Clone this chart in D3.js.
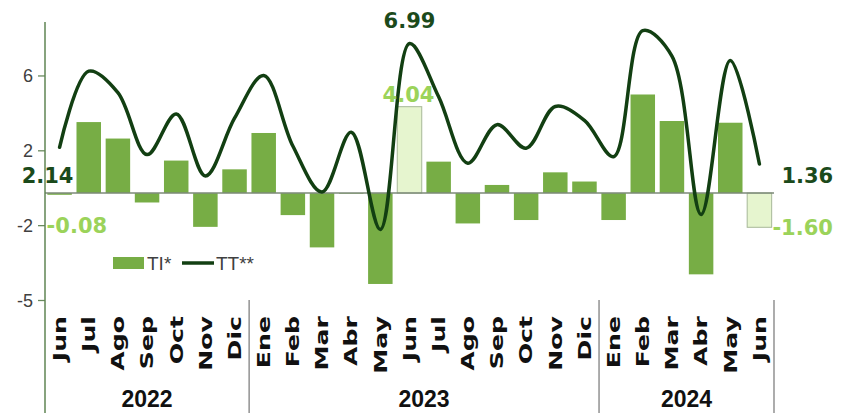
<!DOCTYPE html>
<html>
<head>
<meta charset="utf-8">
<script src="https://cdn.jsdelivr.net/npm/d3@7"></script>
<style>
  body { margin: 0; background: #fff; }
  .tick-label { font-family: "Liberation Sans", Arial, sans-serif; font-size: 18px; fill: #404040; }
  .month { font-family: "DejaVu Sans", sans-serif; font-weight: bold; font-size: 18px; fill: #111; }
  .year { font-family: "Liberation Sans", Arial, sans-serif; font-weight: bold; font-size: 23px; fill: #111; }
  .legendKey { font-family: "Liberation Sans", Arial, sans-serif; font-size: 19px; fill: #404040; }
  .note { font-family: "DejaVu Sans", sans-serif; font-weight: bold; font-size: 21px; }
</style>
</head>
<body>
<script>
const width = 846;
const height = 413;

// months Jun 2022 .. Jun 2024
const months = ["Jun", "Jul", "Ago", "Sep", "Oct", "Nov", "Dic",
  "Ene", "Feb", "Mar", "Abr", "May", "Jun", "Jul", "Ago", "Sep", "Oct", "Nov", "Dic",
  "Ene", "Feb", "Mar", "Abr", "May", "Jun"];
const years = ["2022", "2023", "2024"];
const monthsPerYear = [7, 12, 6];

// TI* (bars) and TT** (line)
const ti = [-0.08, 3.32, 2.55, -0.44, 1.52, -1.58, 1.11,
  2.81, -1.03, -2.54, -0.03, -4.25, 4.04, 1.47, -1.42, 0.38, -1.26, 0.97, 0.54,
  -1.26, 4.61, 3.37, -3.80, 3.29, -1.60];
const tt = [2.14, 5.7, 4.7, 1.8, 3.7, 0.8, 3.5,
  5.5, 2.2, 0.05, 2.85, -1.7, 6.99, 4.5, 1.4, 3.2, 2.1, 4.05, 3.4,
  1.7, 7.6, 6.4, -1.0, 6.2, 1.36];

const highlighted = [12, 24];
const tickValues = [-5, -1.5, 2, 5.5];

const barColor = "#77ad45";
const barLight = "#e6f5cf";
const lineColor = "#123f12";
const darkText = "#1b4a1b";
const lightText = "#9bd35a";

// plain hyphen as minus sign
const locale = d3.formatLocale({ decimal: ".", thousands: ",", grouping: [3], currency: ["", ""], minus: "-" });

const x = d3.scaleBand(d3.range(months.length), [45, 774])
  .paddingInner(0.16)
  .paddingOuter(0.08);
const y = d3.scaleLinear([-5, 8], [300, 22]);
const cx = i => x(i) + x.bandwidth() / 2;

const svg = d3.select("body")
  .append("svg")
  .attr("width", width)
  .attr("height", height);

// bars
svg.append("g")
  .selectAll("rect")
  .data(ti)
  .enter().append("rect")
  .attr("x", (d, i) => x(i))
  .attr("width", x.bandwidth())
  .attr("y", d => y(Math.max(0, d)))
  .attr("height", d => Math.abs(y(d) - y(0)))
  .attr("fill", (d, i) => highlighted.includes(i) ? barLight : barColor)
  .attr("stroke", (d, i) => highlighted.includes(i) ? "#a7b898" : "none")
  .attr("stroke-width", 1);

// zero line
svg.append("line")
  .attr("x1", 45).attr("x2", 774)
  .attr("y1", y(0)).attr("y2", y(0))
  .attr("stroke", "#7d8a78")
  .attr("stroke-width", 1.5);

// y axis
const yAxis = svg.append("g")
  .attr("transform", "translate(45,0)")
  .call(d3.axisLeft(y).tickValues(tickValues).tickFormat(locale.format(".0f")).tickSize(7).tickSizeOuter(0));
yAxis.select(".domain").remove();
yAxis.selectAll(".tick line").attr("stroke", "#6a8a5e").attr("stroke-width", 1.3);
yAxis.selectAll(".tick text").attr("class", "tick-label").attr("x", -12).attr("dy", "0.35em");

svg.append("line")
  .attr("x1", 45).attr("x2", 45)
  .attr("y1", 22).attr("y2", height)
  .attr("stroke", "#5f8453")
  .attr("stroke-width", 1.5);

// line
const line = d3.line()
  .x((d, i) => cx(i))
  .y(d => y(d))
  .curve(d3.curveCatmullRom.alpha(0.5));

svg.append("path")
  .datum(tt)
  .attr("d", line)
  .attr("fill", "none")
  .attr("stroke", lineColor)
  .attr("stroke-width", 3.5)
  .attr("stroke-linecap", "round");

// month labels
svg.append("g")
  .selectAll("text")
  .data(months)
  .enter().append("text")
  .attr("class", "month")
  .attr("transform", (d, i) => "translate(" + cx(i) + ",316)rotate(-90)scale(1.4,1)")
  .attr("text-anchor", "end")
  .attr("dy", "0.35em")
  .text(d => d);

// year groups
let start = 0;
monthsPerYear.forEach((n, k) => {
  let x0 = x(start) - x.step() * x.paddingInner() / 2;
  let x1 = x(start + n - 1) + x.bandwidth() + x.step() * x.paddingInner() / 2;
  if (k === 0) x0 = 45;
  if (k === monthsPerYear.length - 1) x1 = 774;
  if (k > 0) {
    svg.append("line")
      .attr("x1", x0).attr("x2", x0)
      .attr("y1", 300).attr("y2", height)
      .attr("stroke", "#808080").attr("stroke-width", 1.3);
  }
  if (k === monthsPerYear.length - 1) {
    svg.append("line")
      .attr("x1", x1).attr("x2", x1)
      .attr("y1", 300).attr("y2", height)
      .attr("stroke", "#808080").attr("stroke-width", 1.3);
  }
  svg.append("text")
    .attr("class", "year")
    .attr("x", (x0 + x1) / 2)
    .attr("y", 407)
    .attr("text-anchor", "middle")
    .text(years[k]);
  start += n;
});

// value labels
const fmt = locale.format(".2f");
const notes = [
  { i: 0, v: tt[0], color: darkText, dx: -12, dy: 36, anchor: "middle" },
  { i: 12, v: tt[12], color: darkText, dx: 0, dy: -16, anchor: "middle" },
  { i: 24, v: tt[24], color: darkText, dx: 22, dy: 19, anchor: "start" },
  { i: 0, v: ti[0], color: lightText, dx: -13, dy: 38, anchor: "start" },
  { i: 12, v: ti[12], color: lightText, dx: -1, dy: -5, anchor: "middle" },
  { i: 24, v: ti[24], color: lightText, dx: 13, dy: 8, anchor: "start" }
];
svg.append("g")
  .selectAll("text")
  .data(notes)
  .enter().append("text")
  .attr("class", "note")
  .attr("x", d => cx(d.i) + d.dx)
  .attr("y", d => y(d.v) + d.dy)
  .attr("text-anchor", d => d.anchor)
  .attr("fill", d => d.color)
  .text(d => fmt(d.v));

// legend
const legend = svg.append("g");
legend.append("rect")
  .attr("x", 113).attr("y", 257)
  .attr("width", 31).attr("height", 12)
  .attr("fill", barColor);
legend.append("text")
  .attr("class", "legendKey")
  .attr("x", 147).attr("y", 270)
  .text("TI*");
legend.append("line")
  .attr("x1", 182).attr("x2", 214)
  .attr("y1", 263).attr("y2", 263)
  .attr("stroke", lineColor).attr("stroke-width", 3.5);
legend.append("text")
  .attr("class", "legendKey")
  .attr("x", 216).attr("y", 270)
  .text("TT**");
</script>
</body>
</html>
